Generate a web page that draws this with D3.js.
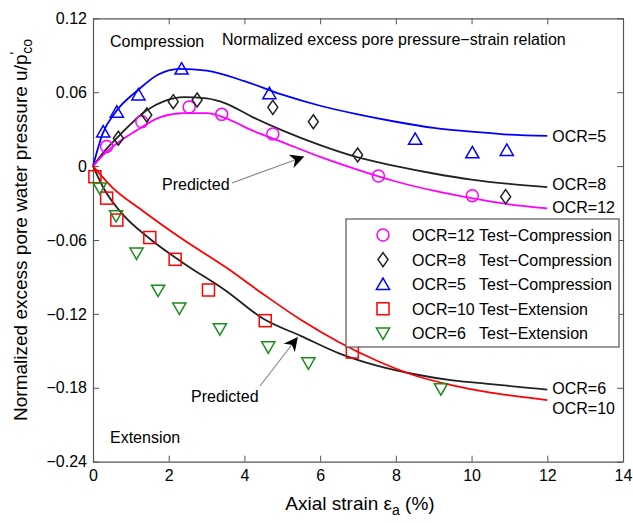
<!DOCTYPE html>
<html>
<head>
<meta charset="utf-8">
<script src="https://cdn.jsdelivr.net/npm/d3@7"></script>
<style>
  body { margin: 0; background: #fff; }
  text { font-family: "Liberation Sans", Arial, sans-serif; fill: #000; }
</style>
</head>
<body>
<svg id="chart" width="633" height="523"></svg>
<script>
// tick values
var xTicks = [0, 2, 4, 6, 8, 10, 12, 14]
var yTicks = [-0.24, -0.18, -0.12, -0.06, 0, 0.06, 0.12]

// test points
var ocr12Test = [[0.36, 0.016], [1.29, 0.036], [2.54, 0.048], [3.4, 0.042], [4.75, 0.026], [7.54, -0.008], [10.02, -0.024]]
var ocr8Test = [[0.67, 0.0226], [1.42, 0.0415], [2.12, 0.0523], [2.75, 0.0537], [4.75, 0.0477], [5.82, 0.036], [6.99, 0.009], [10.9, -0.0248]]
var ocr5Test = [[0.27, 0.028], [0.63, 0.044], [1.2, 0.058], [2.34, 0.079], [4.66, 0.059], [8.51, 0.022], [10.02, 0.011], [10.93, 0.013]]
var ocr10Test = [[0.05, -0.0086], [0.36, -0.026], [0.63, -0.0438], [1.5, -0.058], [2.17, -0.0757], [3.05, -0.1006], [4.55, -0.1255], [6.85, -0.151]]
var ocr6Test = [[0.18, -0.018], [0.61, -0.0405], [1.15, -0.0708], [1.72, -0.101], [2.28, -0.1155], [3.35, -0.1323], [4.63, -0.147], [5.69, -0.16], [9.19, -0.181]]

// predicted curves
var ocr5Pred = [[0, 0], [0.25, 0.026], [0.6, 0.044], [1.2, 0.062], [1.7, 0.074], [2.3, 0.079], [3.0, 0.0775], [4.0, 0.069], [5.0, 0.058], [6.0, 0.049], [7.0, 0.042], [8.0, 0.036], [9.0, 0.031], [10.0, 0.028], [11.0, 0.0255], [12.0, 0.0245]]
var ocr8Pred = [[0, 0], [0.3, 0.012], [0.7, 0.025], [1.4, 0.045], [1.9, 0.053], [2.4, 0.056], [3.0, 0.055], [3.5, 0.051], [4.2, 0.040], [5.0, 0.029], [6.0, 0.017], [7.0, 0.007], [8.0, 0.0], [9.0, -0.006], [10.0, -0.011], [11.0, -0.0145], [12.0, -0.017]]
var ocr12Pred = [[0, 0], [0.3, 0.010], [0.7, 0.020], [1.1, 0.028], [1.8, 0.040], [2.4, 0.043], [3.0, 0.043], [3.5, 0.039], [4.2, 0.029], [5.0, 0.0195], [6.0, 0.0075], [7.0, -0.003], [8.0, -0.0125], [9.0, -0.020], [10.0, -0.026], [11.0, -0.031], [12.0, -0.0343]]
var ocr10Pred = [[0, 0], [0.5, -0.017], [1.3, -0.036], [2.4, -0.060], [3.5, -0.082], [4.5, -0.104], [5.5, -0.125], [6.5, -0.143], [7.5, -0.158], [8.5, -0.170], [9.5, -0.178], [10.5, -0.184], [11.5, -0.188], [12, -0.190]]
var ocr6Pred = [[0, 0], [0.3, -0.019], [0.75, -0.038], [1.5, -0.059], [2.4, -0.079], [3.5, -0.101], [4.5, -0.124], [5.5, -0.138], [6.5, -0.152], [7.5, -0.162], [8.5, -0.169], [9.5, -0.174], [10.5, -0.177], [11.5, -0.180], [12, -0.1815]]

var endLabels = ["OCR=5", "OCR=8", "OCR=12", "OCR=6", "OCR=10"]
var legendNames = ["OCR=12", "OCR=8", "OCR=5", "OCR=10", "OCR=6"]
var legendTypes = ["Test\u2212Compression", "Test\u2212Compression", "Test\u2212Compression", "Test\u2212Extension", "Test\u2212Extension"]

const svg = d3.select("#chart")

const x = d3.scaleLinear().domain([0, 14]).range([93, 623])
const y = d3.scaleLinear().domain([-0.24, 0.12]).range([461.7, 18.3])

const fmtY = d => d === 0 ? "0" : d3.format(".2f")(d)

// axes, MATLAB style with inward ticks
const axisColor = "#555"
var gB = svg.append("g").attr("transform", `translate(0,${y(-0.24)})`)
    .call(d3.axisBottom(x).tickValues(xTicks).tickSize(-6).tickSizeOuter(0).tickPadding(8))
var gT = svg.append("g").attr("transform", `translate(0,${y(0.12)})`)
    .call(d3.axisTop(x).tickValues(xTicks).tickSize(-6).tickSizeOuter(0).tickFormat(""))
var gL = svg.append("g").attr("transform", `translate(${x(0)},0)`)
    .call(d3.axisLeft(y).tickValues(yTicks).tickSize(-6).tickSizeOuter(0).tickPadding(6).tickFormat(fmtY))
var gR = svg.append("g").attr("transform", `translate(${x(14)},0)`)
    .call(d3.axisRight(y).tickValues(yTicks).tickSize(-6).tickSizeOuter(0).tickFormat(""))
;[gB, gT, gL, gR].forEach(g => {
    g.select(".domain").attr("stroke", axisColor).attr("stroke-width", 1.2)
    g.selectAll(".tick line").attr("stroke", axisColor)
    g.selectAll("text").attr("font-size", 16).attr("font-family", "Liberation Sans, Arial, sans-serif").attr("fill", "#000")
})

// predicted lines
const line = d3.line().x(d => x(d[0])).y(d => y(d[1])).curve(d3.curveMonotoneX)
var preds = [
    {data: ocr5Pred, color: "#0000ff"},
    {data: ocr8Pred, color: "#222"},
    {data: ocr12Pred, color: "#ff00ff"},
    {data: ocr6Pred, color: "#222"},
    {data: ocr10Pred, color: "#ff0000"}
]
svg.append("g").selectAll("path").data(preds).join("path")
    .attr("d", d => line(d.data))
    .attr("fill", "none")
    .attr("stroke", d => d.color)
    .attr("stroke-width", 1.8)

// end labels
svg.append("g").selectAll("text").data(preds).join("text")
    .attr("x", d => x(d.data[d.data.length - 1][0]) + 5)
    .attr("y", (d, i) => y(d.data[d.data.length - 1][1]) + [6, 3, 5, 4, 14][i])
    .attr("font-size", 16)
    .text((d, i) => endLabels[i])

// markers
const tri = d3.symbol().type(d3.symbolTriangle).size(75)
function drawMarker(g, kind, color) {
    if (kind == "circle") {
        g.append("circle").attr("r", 6)
    } else if (kind == "diamond") {
        g.append("path").attr("d", "M0,-7L5,0L0,7L-5,0Z")
    } else if (kind == "up") {
        g.append("path").attr("d", tri()).attr("transform", "translate(0,1.5)")
    } else if (kind == "down") {
        g.append("path").attr("d", tri()).attr("transform", "translate(0,-1.5) rotate(180)")
    } else if (kind == "square") {
        g.append("rect").attr("x", -6).attr("y", -6).attr("width", 12).attr("height", 12)
    }
    g.selectAll("*").attr("fill", "none").attr("stroke", color).attr("stroke-width", 1.5)
}
var tests = [
    {data: ocr12Test, kind: "circle", color: "#ff00ff"},
    {data: ocr8Test, kind: "diamond", color: "#222"},
    {data: ocr5Test, kind: "up", color: "#0000ff"},
    {data: ocr10Test, kind: "square", color: "#ff0000"},
    {data: ocr6Test, kind: "down", color: "#1a8c1a"}
]
tests.forEach(s => {
    svg.append("g").selectAll("g").data(s.data).join("g")
        .attr("transform", d => `translate(${x(d[0])},${y(d[1])})`)
        .each(function () { drawMarker(d3.select(this), s.kind, s.color) })
})

// legend
var leg = svg.append("g")
leg.append("rect").attr("x", 346).attr("y", 219).attr("width", 273).attr("height", 128)
    .attr("fill", "#fff").attr("stroke", "#555").attr("stroke-width", 1.2)
tests.forEach((s, i) => {
    var ly = 235 + i * 24.6
    var g = leg.append("g").attr("transform", `translate(383,${ly})`)
    drawMarker(g, s.kind, s.color)
    leg.append("text").attr("x", 412).attr("y", ly + 6).attr("font-size", 16).text(legendNames[i])
    leg.append("text").attr("x", 479).attr("y", ly + 6).attr("font-size", 16).text(legendTypes[i])
})

// annotations
svg.append("text").attr("x", 110).attr("y", 47).attr("font-size", 16).text("Compression")
svg.append("text").attr("x", 222).attr("y", 45).attr("font-size", 16).text("Normalized excess pore pressure\u2212strain relation")
svg.append("text").attr("x", 110).attr("y", 443).attr("font-size", 16).text("Extension")

svg.append("defs").append("marker").attr("id", "ah")
    .attr("viewBox", "0 0 10 10").attr("refX", 9).attr("refY", 5)
    .attr("markerWidth", 14).attr("markerHeight", 14).attr("markerUnits", "userSpaceOnUse")
    .attr("orient", "auto")
    .append("path").attr("d", "M0,0L10,5L0,10L3,5Z").attr("fill", "#000")

svg.append("text").attr("x", 162).attr("y", 190).attr("font-size", 16).text("Predicted")
svg.append("line").attr("x1", 232).attr("y1", 183).attr("x2", 303).attr("y2", 157)
    .attr("stroke", "#888").attr("stroke-width", 1.2).attr("marker-end", "url(#ah)")
svg.append("text").attr("x", 191).attr("y", 402).attr("font-size", 16).text("Predicted")
svg.append("line").attr("x1", 260).attr("y1", 386).attr("x2", 297).attr("y2", 338)
    .attr("stroke", "#888").attr("stroke-width", 1.2).attr("marker-end", "url(#ah)")

// axis titles
var xl = svg.append("text").attr("x", 360).attr("y", 510).attr("text-anchor", "middle").attr("font-size", 19)
xl.append("tspan").text("Axial strain \u03b5")
xl.append("tspan").attr("font-size", 14).attr("dy", 5).text("a")
xl.append("tspan").attr("dy", -5).text(" (%)")

var yl = svg.append("text").attr("transform", "translate(27,230) rotate(-90)")
    .attr("text-anchor", "middle").attr("font-size", 19)
yl.append("tspan").text("Normalized excess pore water pressure u/p")
yl.append("tspan").attr("font-size", 14).attr("dy", -7).text("'")
yl.append("tspan").attr("font-size", 14).attr("dy", 12).attr("dx", -2).text("co")
</script>
</body>
</html>
